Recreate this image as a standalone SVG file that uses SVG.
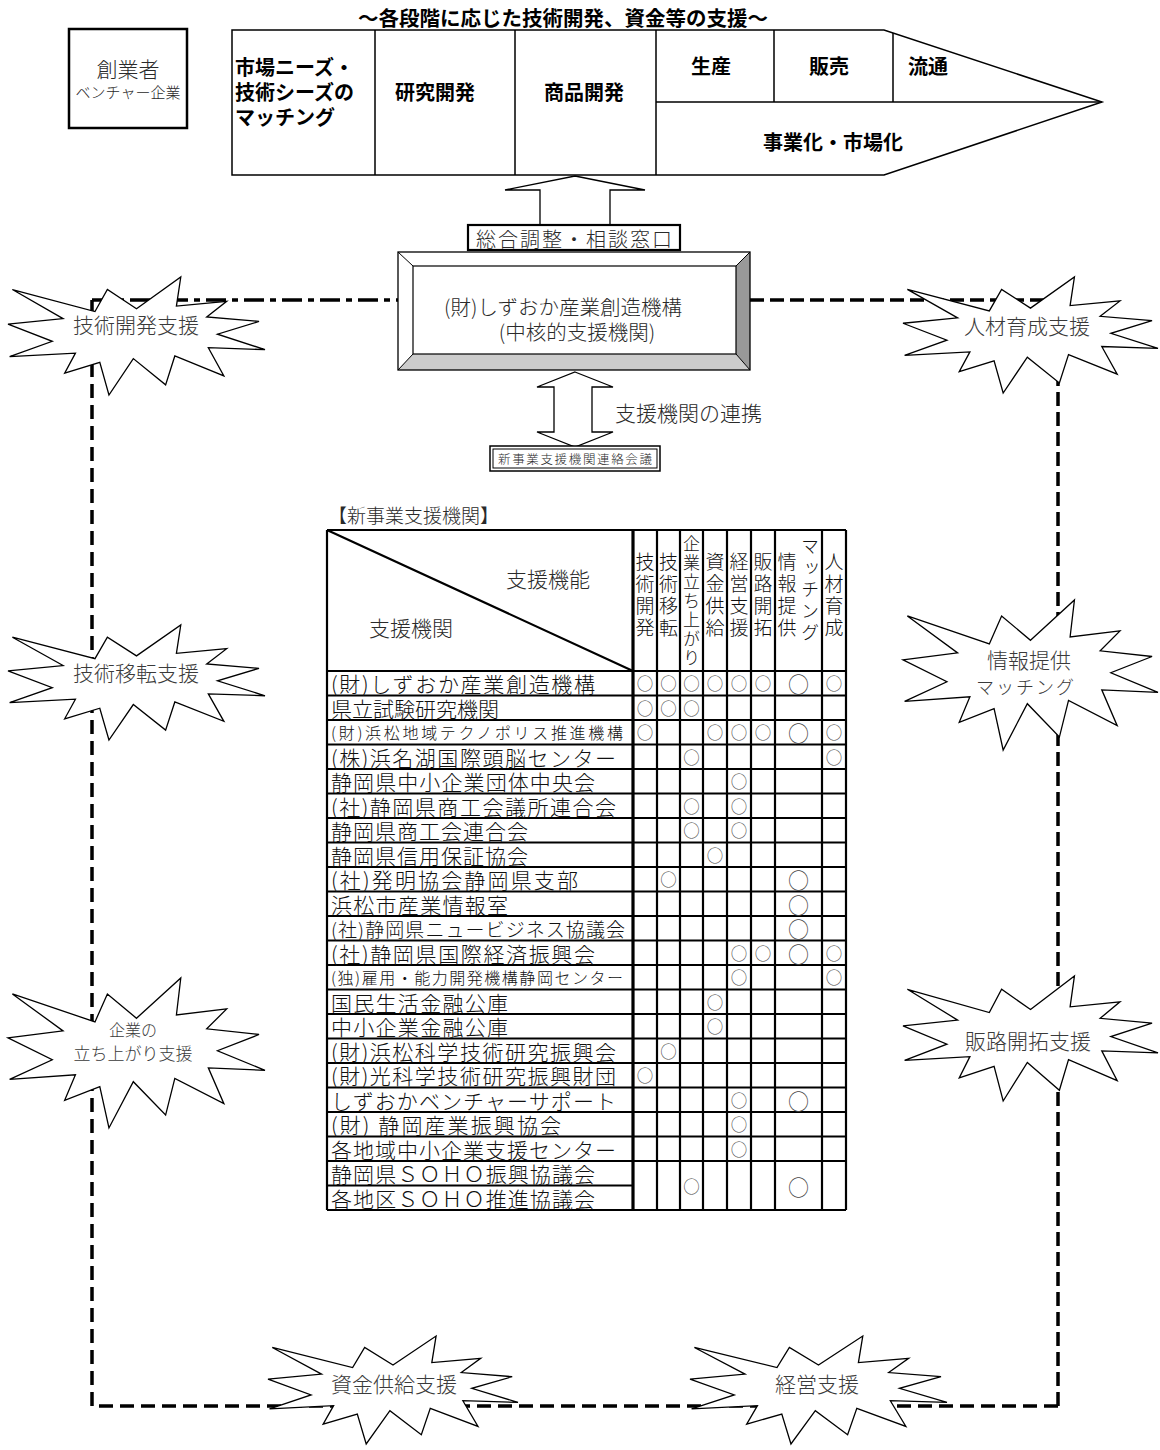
<svg xmlns="http://www.w3.org/2000/svg" xmlns:xlink="http://www.w3.org/1999/xlink" width="1160" height="1450" viewBox="0 0 1160 1450">
<style>
text{font-family:"Noto Sans CJK JP","Noto Sans",sans-serif;dominant-baseline:central}
.b{font-weight:700;fill:#000;font-size:20px}
.l{font-weight:300;fill:#2a2a2a}
.c{text-anchor:middle}
.ln{stroke:#000;fill:none}
.box{fill:#fff;stroke:#000}
.grid{stroke:#000;stroke-width:2.2;fill:none}
.nm{font-weight:300;fill:#111;font-size:21px}
.o{font-weight:300;fill:#444;font-size:16.5px;text-anchor:middle}
.O{font-weight:300;fill:#444;font-size:21px;text-anchor:middle}
.hd{font-weight:300;fill:#111;font-size:19px;text-anchor:middle;writing-mode:vertical-rl;letter-spacing:3px}
.bt{font-weight:300;fill:#3a3a3a;font-size:21px;text-anchor:middle}
</style>
<defs>
<path id="burst" d="M50 26.85 L67.23 0 L65.53 24.65 L85.09 20.63 L77.32 33.87 L97.67 37.67 L81.51 48.5 L100 61.53 L77.95 59.92 L84 83.77 L64.91 66.93 L61.33 91.38 L48.76 69.14 L39.28 100 L35.72 72.36 L22.05 81.56 L26.24 64.52 L0.63 67.53 L17.23 54.51 L0 39.88 L21.42 35.26 L1.71 10.63 L33.85 29.26 L38.67 10.63 Z" fill="#fff" stroke="#000" stroke-width="1.3" vector-effect="non-scaling-stroke" stroke-linejoin="miter"/>
</defs>
<rect width="1160" height="1450" fill="#fff"/>

<g id="frame" stroke="#000" stroke-width="3.5" fill="none">
<path d="M92 300 H398" stroke-dasharray="20 6 6 6"/>
<path d="M750 300 H1058 V1406" stroke-dasharray="14 6"/>
<path d="M92 300 V1406 H1058" stroke-dasharray="14 7"/>
</g>

<text id="title" x="563" y="17" class="c" style="font-size:20.5px;font-weight:700">～各段階に応じた技術開発、資金等の支援～</text>

<g id="founder">
<rect x="69" y="29" width="118" height="99" class="box" stroke-width="2.5"/>
<text x="128" y="68" class="l c" style="font-size:21px">創業者</text>
<text x="128" y="91" class="l c" style="font-size:15px">ベンチャー企業</text>
</g>

<g id="process">
<path d="M232 30 H884 L1102 102 L884 175 H232 Z" class="box" stroke-width="1.5"/>
<path d="M375 30 V175 M515 30 V175 M656 30 V175 M656 102 H1102 M774 30 V102 M893 33 V102" class="ln" stroke-width="1.5"/>
<text x="235" y="66" class="b">市場ニーズ・</text>
<text x="235" y="91" class="b">技術シーズの</text>
<text x="235" y="116" class="b">マッチング</text>
<text x="435" y="91" class="b c">研究開発</text>
<text x="584" y="91" class="b c">商品開発</text>
<text x="711" y="65" class="b c">生産</text>
<text x="829" y="65" class="b c">販売</text>
<text x="928" y="65" class="b c">流通</text>
<text x="833" y="141" class="b c">事業化・市場化</text>
</g>

<g id="connectors">
<path d="M575 176 L645 190 H610 V225 H540 V190 H505 Z" class="box" stroke-width="1.3"/>
<path d="M575 372 L613 387 H592 V432 H613 L575 447 L537 432 H554 V387 H537 Z" class="box" stroke-width="1.3"/>
</g>

<g id="window">
<rect x="468" y="225" width="212" height="25" class="box" stroke-width="2.2"/>
<text x="574" y="238" class="l c" style="font-size:20px" textLength="196">総合調整・相談窓口</text>
</g>

<g id="core">
<rect x="398" y="252" width="352" height="118" fill="#fff"/>
<polygon points="750,252 750,370 736,354 736,266" fill="#999"/>
<polygon points="398,370 750,370 736,354 413,354" fill="#ccc"/>
<rect x="398" y="252" width="352" height="118" class="ln" stroke-width="1.3"/>
<rect x="413" y="266" width="323" height="88" class="ln" stroke-width="1.2"/>
<path d="M398 252 L413 266 M750 252 L736 266 M398 370 L413 354 M750 370 L736 354" class="ln" stroke-width="1"/>
<text x="563" y="306" class="l c" style="font-size:20.5px">(財)しずおか産業創造機構</text>
<text x="577" y="331" class="l c" style="font-size:20.5px">(中核的支援機関)</text>
</g>

<text id="link-label" x="615" y="412" class="l" style="font-size:21px">支援機関の連携</text>

<g id="council">
<rect x="490" y="446" width="170" height="25" class="box" stroke-width="1.5"/>
<rect x="493" y="449" width="164" height="19" class="ln" stroke-width="1"/>
<text x="575" y="458.5" class="l c" style="font-size:12.5px" textLength="154">新事業支援機関連絡会議</text>
</g>

<g id="burst1"><use xlink:href="#burst" transform="translate(8 277) scale(2.57 1.18)"/><text x="136" y="324" class="bt">技術開発支援</text></g>
<g id="burst2"><use xlink:href="#burst" transform="translate(903 277) scale(2.55 1.16)"/><text x="1027" y="325" class="bt">人材育成支援</text></g>
<g id="burst3"><use xlink:href="#burst" transform="translate(8 625) scale(2.57 1.15)"/><text x="136" y="672" class="bt">技術移転支援</text></g>
<g id="burst4"><use xlink:href="#burst" transform="translate(903 600) scale(2.55 1.5)"/><text x="1029" y="659" class="bt">情報提供</text><text x="1026" y="686" class="bt" style="font-size:18px;letter-spacing:2px">マッチング</text></g>
<g id="burst5"><use xlink:href="#burst" transform="translate(8 978) scale(2.57 1.5)"/><text x="133" y="1029" class="bt" style="font-size:16px">企業の</text><text x="133" y="1052" class="bt" style="font-size:17px">立ち上がり支援</text></g>
<g id="burst6"><use xlink:href="#burst" transform="translate(903 976) scale(2.55 1.25)"/><text x="1028" y="1040" class="bt">販路開拓支援</text></g>
<g id="burst7"><use xlink:href="#burst" transform="translate(268 1336) scale(2.5 1.08)"/><text x="394" y="1383" class="bt">資金供給支援</text></g>
<g id="burst8"><use xlink:href="#burst" transform="translate(690 1336) scale(2.57 1.08)"/><text x="817" y="1383" class="bt">経営支援</text></g>

<g id="table">
<text x="328" y="514" class="l" style="font-size:19px">【新事業支援機関】</text>
<rect x="327" y="530" width="519" height="680" fill="#fff"/>
<path class="grid" d="M327 530 H846 M327 530 L633 671
M327 671 H846 M327 695.5 H846 M327 720 H846 M327 744.5 H846 M327 769 H846 M327 793.5 H846 M327 818 H846 M327 842.5 H846 M327 867 H846 M327 891.5 H846 M327 916 H846 M327 940.5 H846 M327 965 H846 M327 989.5 H846 M327 1014 H846 M327 1038.5 H846 M327 1063 H846 M327 1087.5 H846 M327 1112 H846 M327 1136.5 H846 M327 1161 H846 M327 1185.5 H633 M327 1210 H846
M327 530 V1210 M657 530 V1210 M680 530 V1210 M703 530 V1210 M727 530 V1210 M751 530 V1210 M775 530 V1210 M822 530 V1210 M846 530 V1210"/>
<path d="M633 530 V1210" stroke="#000" stroke-width="3.2"/>
<text x="548" y="578" class="l c" style="font-size:21px">支援機能</text>
<text x="411" y="627" class="l c" style="font-size:21px">支援機関</text>
<text class="hd" x="645" y="596">技術開発</text>
<text class="hd" x="668.5" y="596">技術移転</text>
<text class="hd" x="691.5" y="602" style="font-size:17px;letter-spacing:2px">企業立ち上がり</text>
<text class="hd" x="715" y="596">資金供給</text>
<text class="hd" x="739" y="596">経営支援</text>
<text class="hd" x="763" y="596">販路開拓</text>
<text class="hd" x="787" y="596">情報提供</text>
<text class="hd" x="810" y="591" style="font-size:18px;letter-spacing:3.5px">マッチング</text>
<text class="hd" x="834" y="596">人材育成</text>

<text class="nm" x="331" y="683.25" textLength="264">(財)しずおか産業創造機構</text>
<text class="nm" x="331" y="707.75" textLength="168">県立試験研究機関</text>
<text class="nm" x="331" y="732.25" textLength="292" style="font-size:16px">(財)浜松地域テクノポリス推進機構</text>
<text class="nm" x="331" y="756.75" textLength="285">(株)浜名湖国際頭脳センター</text>
<text class="nm" x="331" y="781.25" textLength="264">静岡県中小企業団体中央会</text>
<text class="nm" x="331" y="805.75" textLength="285">(社)静岡県商工会議所連合会</text>
<text class="nm" x="331" y="830.25" textLength="197">静岡県商工会連合会</text>
<text class="nm" x="331" y="854.75" textLength="197">静岡県信用保証協会</text>
<text class="nm" x="331" y="879.25" textLength="247">(社)発明協会静岡県支部</text>
<text class="nm" x="331" y="903.75" textLength="177">浜松市産業情報室</text>
<text class="nm" x="331" y="928.25" textLength="294" style="font-size:19px">(社)静岡県ニュービジネス協議会</text>
<text class="nm" x="331" y="952.75" textLength="264">(社)静岡県国際経済振興会</text>
<text class="nm" x="331" y="977.25" textLength="292" style="font-size:16px">(独)雇用・能力開発機構静岡センター</text>
<text class="nm" x="331" y="1001.75" textLength="177">国民生活金融公庫</text>
<text class="nm" x="331" y="1026.25" textLength="177">中小企業金融公庫</text>
<text class="nm" x="331" y="1050.75" textLength="285">(財)浜松科学技術研究振興会</text>
<text class="nm" x="331" y="1075.25" textLength="285">(財)光科学技術研究振興財団</text>
<text class="nm" x="331" y="1099.75" textLength="285">しずおかベンチャーサポート</text>
<text class="nm" x="331" y="1124.25" textLength="230">(財) 静岡産業振興協会</text>
<text class="nm" x="331" y="1148.75" textLength="285">各地域中小企業支援センター</text>
<text class="nm" x="331" y="1173.25" textLength="264">静岡県ＳＯＨＯ振興協議会</text>
<text class="nm" x="331" y="1197.75" textLength="264">各地区ＳＯＨＯ推進協議会</text>

<g id="marks">
<text class="o" x="645" y="683.25">○</text><text class="o" x="668.5" y="683.25">○</text><text class="o" x="691.5" y="683.25">○</text><text class="o" x="715" y="683.25">○</text><text class="o" x="739" y="683.25">○</text><text class="o" x="763" y="683.25">○</text><text class="O" x="798.5" y="683.25">○</text><text class="o" x="834" y="683.25">○</text>
<text class="o" x="645" y="707.75">○</text><text class="o" x="668.5" y="707.75">○</text><text class="o" x="691.5" y="707.75">○</text>
<text class="o" x="645" y="732.25">○</text><text class="o" x="715" y="732.25">○</text><text class="o" x="739" y="732.25">○</text><text class="o" x="763" y="732.25">○</text><text class="O" x="798.5" y="732.25">○</text><text class="o" x="834" y="732.25">○</text>
<text class="o" x="691.5" y="756.75">○</text><text class="o" x="834" y="756.75">○</text>
<text class="o" x="739" y="781.25">○</text>
<text class="o" x="691.5" y="805.75">○</text><text class="o" x="739" y="805.75">○</text>
<text class="o" x="691.5" y="830.25">○</text><text class="o" x="739" y="830.25">○</text>
<text class="o" x="715" y="854.75">○</text>
<text class="o" x="668.5" y="879.25">○</text><text class="O" x="798.5" y="879.25">○</text>
<text class="O" x="798.5" y="903.75">○</text>
<text class="O" x="798.5" y="928.25">○</text>
<text class="o" x="739" y="952.75">○</text><text class="o" x="763" y="952.75">○</text><text class="O" x="798.5" y="952.75">○</text><text class="o" x="834" y="952.75">○</text>
<text class="o" x="739" y="977.25">○</text><text class="o" x="834" y="977.25">○</text>
<text class="o" x="715" y="1001.75">○</text>
<text class="o" x="715" y="1026.25">○</text>
<text class="o" x="668.5" y="1050.75">○</text>
<text class="o" x="645" y="1075.25">○</text>
<text class="o" x="739" y="1099.75">○</text><text class="O" x="798.5" y="1099.75">○</text>
<text class="o" x="739" y="1124.25">○</text>
<text class="o" x="739" y="1148.75">○</text>
<text class="o" x="691.5" y="1185.5">○</text><text class="O" x="798.5" y="1185.5">○</text>
</g>
</g>
</svg>
